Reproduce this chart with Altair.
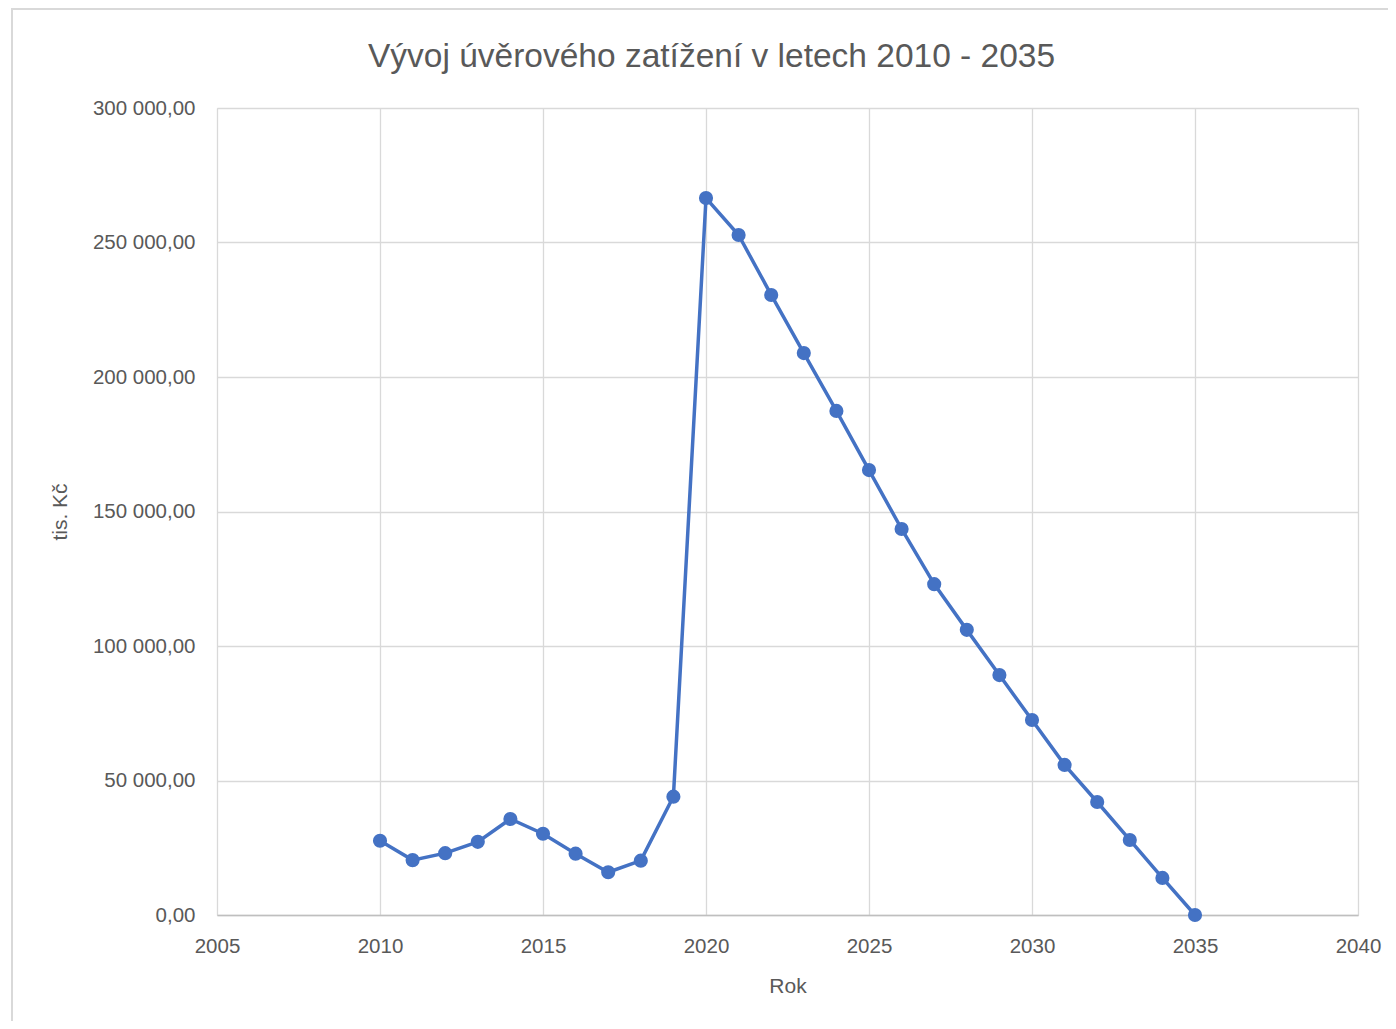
import altair as alt
import pandas as pd

years = list(range(2010, 2036))
values = [27600, 20400, 23000, 27200, 35700, 30200, 22800, 15900, 20200, 44000,
          266500, 252800, 230500, 208900, 187400, 165400, 143500, 123000, 106000,
          89200, 72500, 55800, 42000, 27900, 13800, 0]

x_ticks = [2005, 2010, 2015, 2020, 2025, 2030, 2035, 2040]
y_ticks = [0, 50000, 100000, 150000, 200000, 250000, 300000]

df = pd.DataFrame({"Rok": years, "Hodnota": values})

FONT = "Liberation Sans"
GRAY = "#595959"
BLUE = "#4472C4"

base = alt.Chart(df)

line = base.mark_line(color=BLUE, strokeWidth=3.5).encode(
    x=alt.X("Rok:Q",
            scale=alt.Scale(domain=[2005, 2040], nice=False, zero=False),
            axis=alt.Axis(title="Rok", values=x_ticks, format="d",
                          grid=True, gridColor="#d9d9d9", gridWidth=1.3,
                          domain=True, domainColor="#bfbfbf", domainWidth=1.5,
                          ticks=False, labelPadding=21, labelFontSize=20.5,
                          labelFlush=False, labelBound=False,
                          labelColor=GRAY, labelFont=FONT,
                          titleFont=FONT, titleFontSize=21, titleColor=GRAY,
                          titleFontWeight="normal", titlePadding=19)),
    y=alt.Y("Hodnota:Q",
            scale=alt.Scale(domain=[0, 300000], nice=False),
            axis=alt.Axis(title="tis. Kč", values=y_ticks,
                          labelExpr="replace(replace(format(datum.value, ',.2f'), regexp(',', 'g'), ' '), '.', ',')",
                          grid=True, gridColor="#d9d9d9", gridWidth=1.3,
                          domain=False, ticks=False, labelPadding=22,
                          labelFlush=False,
                          labelFontSize=20.5, labelColor=GRAY, labelFont=FONT,
                          titleFont=FONT, titleFontSize=21, titleColor=GRAY,
                          titleFontWeight="normal", titlePadding=22)),
)

points = base.mark_circle(color=BLUE, opacity=1, size=200).encode(
    x="Rok:Q", y="Hodnota:Q"
)

frame = alt.Chart(pd.DataFrame({"a": [0]})).mark_rect(
    fill=None, stroke="#d9d9d9", strokeWidth=2, clip=False
).encode(
    x=alt.value(-205), x2=alt.value(1190),
    y=alt.value(-99), y2=alt.value(1130)
)

chart = alt.layer(frame, line, points).properties(
    width=1141, height=807,
    autosize=alt.AutoSizeParams(type="none"),
    padding={"left": 209, "top": 100, "right": 30, "bottom": 106},
    title=alt.TitleParams(
        "Vývoj úvěrového zatížení v letech 2010 - 2035",
        font=FONT, fontSize=33.5, fontWeight="normal", color=GRAY,
        anchor="middle", dx=-76, offset=0, dy=66
    ),
).configure_view(stroke=None).configure(background="white")

chart.save("out.html", embed_options={"renderer": "svg", "actions": False})
